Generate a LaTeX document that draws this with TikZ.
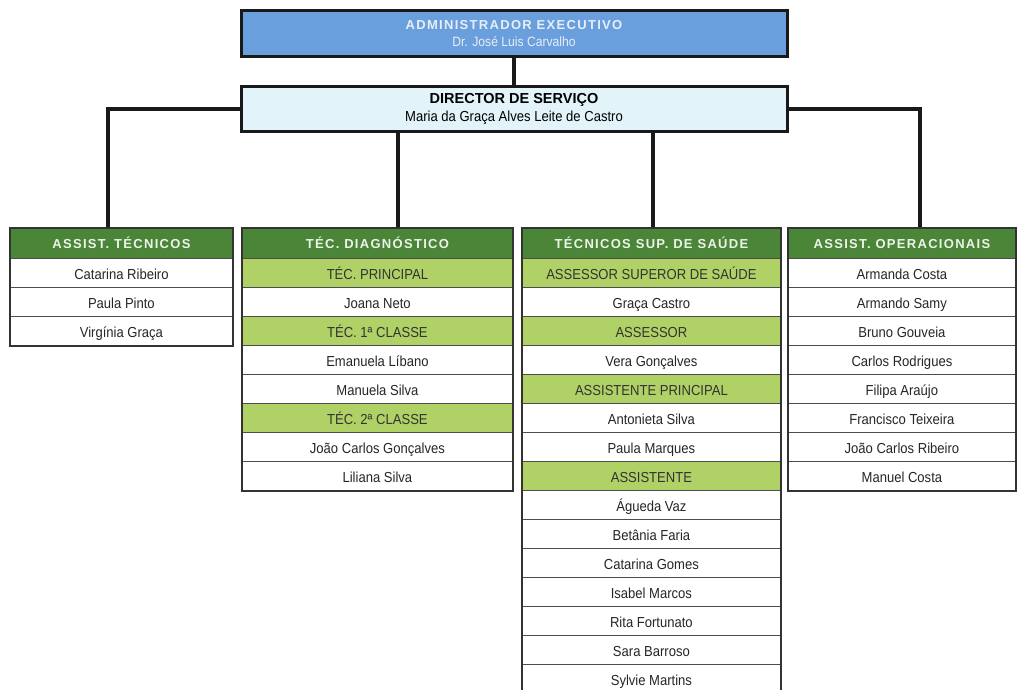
\documentclass[tikz,border=0pt]{standalone}
\usepackage{fontspec}
\setmainfont{Liberation Sans}
\newfontfamily\namefont[FakeStretch=0.9]{Liberation Sans}
\newfontfamily\headfont[LetterSpace=10]{Liberation Sans}
\usetikzlibrary{backgrounds}
\definecolor{topblue}{HTML}{6A9FDD}
\definecolor{dirfill}{HTML}{E2F3FA}
\definecolor{hdgreen}{HTML}{4A8538}
\definecolor{subgreen}{HTML}{AFD166}
\definecolor{hdtext}{HTML}{EEF3EA}
\definecolor{toptext}{HTML}{E8EEF6}
\tikzset{
  conn/.style={line width=3.2pt, draw=black!90},
  topbox/.style={draw=black!90, line width=3pt, fill=topblue, minimum width=546pt, minimum height=46pt, inner sep=0pt, align=center, text=toptext},
  dirbox/.style={draw=black!90, line width=3pt, fill=dirfill, minimum width=546pt, minimum height=44pt, inner sep=0pt, align=center, text=black},
  hdcell/.style={draw=black!75, line width=0.9pt, fill=hdgreen, text=hdtext, font=\headfont\bfseries\fontsize{13}{15}\selectfont, minimum height=30pt, anchor=north west, inner sep=0pt, text height=9.5pt, text depth=0pt},
  cellw/.style={draw=black!70, line width=0.8pt, fill=white, text=black!85, font=\namefont\fontsize{14.5}{16}\selectfont, minimum height=29pt, anchor=north west, inner sep=0pt, text height=15pt, text depth=1pt},
  cellg/.style={cellw, fill=subgreen, text=black!80},
  colframe/.style={draw=black!80, line width=1.4pt}
}
\begin{document}
\begin{tikzpicture}[x=1pt,y=-1pt]
\useasboundingbox (0,0) rectangle (1019,690);
\clip (0,0) rectangle (1019,690);

% top boxes
\node[topbox] (admin) at (514,34) {{\headfont\bfseries\fontsize{13}{15}\selectfont ADMINISTRADOR EXECUTIVO}\\[5pt]{\namefont\fontsize{13.5}{15}\selectfont Dr. José Luis Carvalho}};
\node[dirbox] (dir) at (514,109) {{\bfseries\fontsize{14.5}{16}\selectfont DIRECTOR DE SERVIÇO}\\[3pt]{\namefont\fontsize{14.5}{16}\selectfont Maria da Graça Alves Leite de Castro}};

% headers
\node[hdcell, minimum width=222pt] (h1) at (10,228) {ASSIST. TÉCNICOS};
\node[hdcell, minimum width=270pt] (h2) at (242,228) {TÉC. DIAGNÓSTICO};
\node[hdcell, minimum width=258pt] (h3) at (522,228) {TÉCNICOS SUP. DE SAÚDE};
\node[hdcell, minimum width=227pt] (h4) at (788,228) {ASSIST. OPERACIONAIS};

% column 1
\foreach \t [count=\i] in {Catarina Ribeiro, Paula Pinto, Virgínia Graça}
  \node[cellw, minimum width=222pt] (c1r\i) at (10,{229+29*\i}) {\t};

% column 2
\foreach \k/\t [count=\i] in {g/TÉC. PRINCIPAL, w/Joana Neto, g/TÉC. 1ª CLASSE, w/Emanuela Líbano, w/Manuela Silva, g/TÉC. 2ª CLASSE, w/João Carlos Gonçalves, w/Liliana Silva}
  \node[cell\k, minimum width=270pt] (c2r\i) at (242,{229+29*\i}) {\t};

% column 3
\foreach \k/\t [count=\i] in {g/ASSESSOR SUPEROR DE SAÚDE, w/Graça Castro, g/ASSESSOR, w/Vera Gonçalves, g/ASSISTENTE PRINCIPAL, w/Antonieta Silva, w/Paula Marques, g/ASSISTENTE, w/Águeda Vaz, w/Betânia Faria, w/Catarina Gomes, w/Isabel Marcos, w/Rita Fortunato, w/Sara Barroso, w/Sylvie Martins}
  \node[cell\k, minimum width=258pt] (c3r\i) at (522,{229+29*\i}) {\t};

% column 4
\foreach \t [count=\i] in {Armanda Costa, Armando Samy, Bruno Gouveia, Carlos Rodrigues, Filipa Araújo, Francisco Teixeira, João Carlos Ribeiro, Manuel Costa}
  \node[cellw, minimum width=227pt] (c4r\i) at (788,{229+29*\i}) {\t};

% column frames
\draw[colframe] (h1.north west) rectangle (c1r3.south east);
\draw[colframe] (h2.north west) rectangle (c2r8.south east);
\draw[colframe] (h3.north west) rectangle (c3r15.south east);
\draw[colframe] (h4.north west) rectangle (c4r8.south east);

% connectors
\path (h1.north west) ++(98,0) coordinate (b1);
\path (h2.north west) ++(156,0) coordinate (b2);
\path (h3.north west) ++(131,0) coordinate (b3);
\path (h4.north west) ++(132,0) coordinate (b4);
\begin{scope}[on background layer]
\draw[conn] (admin.south) -- (dir.north);
\draw[conn] (dir.west) -| (b1);
\draw[conn] (dir.east) -| (b4);
\draw[conn] (b2 |- dir.south) -- (b2);
\draw[conn] (b3 |- dir.south) -- (b3);
\end{scope}
\end{tikzpicture}
\end{document}
